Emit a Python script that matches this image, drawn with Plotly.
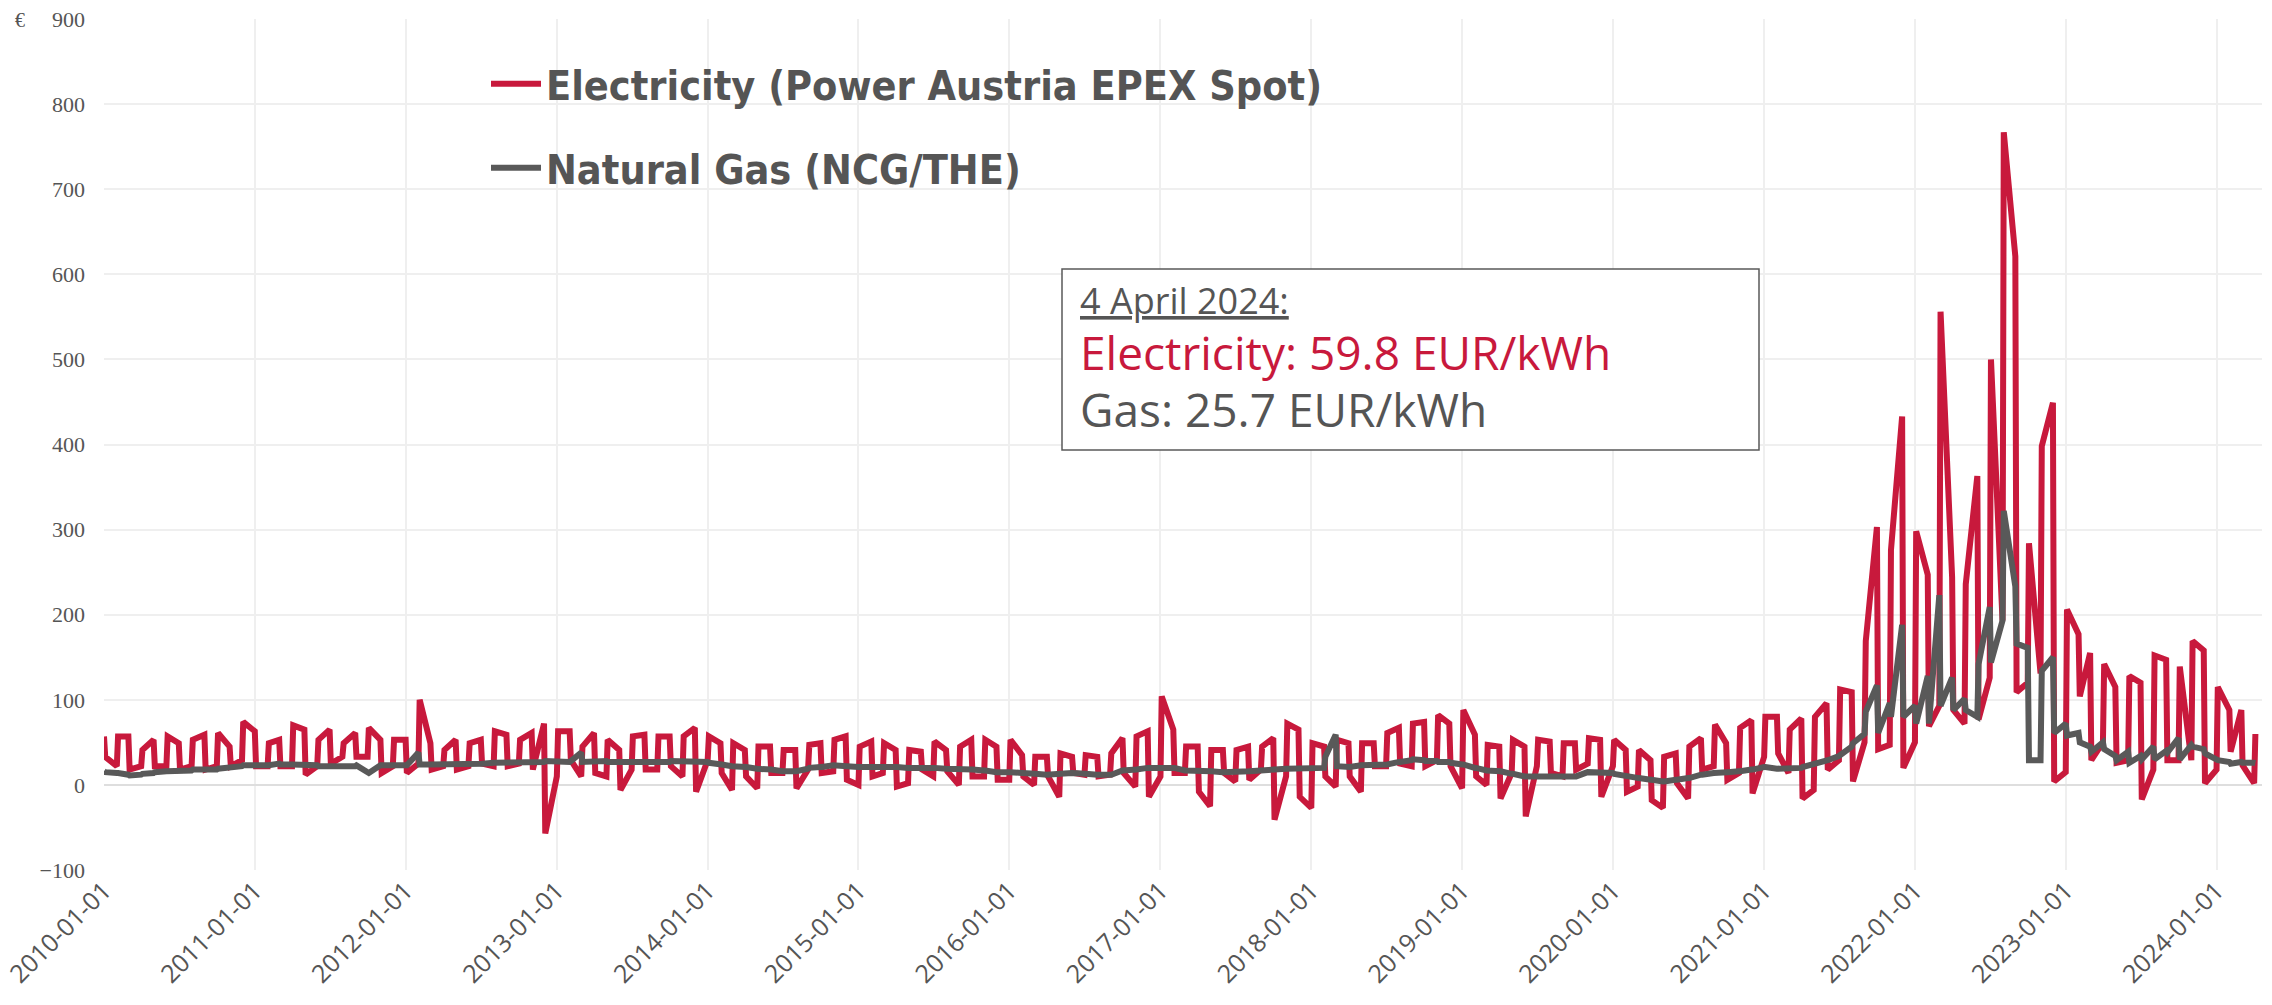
import datetime as dt
import plotly.graph_objects as go

# Spot prices in EUR per unit, two readings per month (1st and 4th of the month)
years = list(range(2010, 2025))

elec_2010 = [57, 33, 22, 57, 57, 18, 22, 41, 53, 22, 22, 57, 49, 18, 22, 53, 59, 18, 22, 61, 45, 22, 29, 74]
elec_2011 = [63, 22, 22, 49, 53, 22, 22, 70, 65, 12, 22, 53, 65, 25, 33, 49, 61, 33, 33, 67, 53, 14, 22, 53]
elec_2012 = [53, 14, 25, 100, 49, 18, 22, 41, 53, 18, 22, 49, 53, 25, 22, 63, 59, 22, 25, 53, 61, 18, 72, -57]
elec_2013 = [10, 63, 63, 29, 10, 45, 61, 14, 10, 53, 41, -6, 18, 57, 59, 18, 18, 57, 57, 22, 10, 57, 67, -8]
elec_2014 = [29, 57, 49, 14, -6, 49, 41, 10, -4, 45, 45, 14, 14, 41, 41, -4, 18, 47, 49, 14, 16, 53, 57, 6]
elec_2015 = [0, 45, 51, 10, 14, 49, 41, -2, 2, 41, 39, 18, 10, 51, 41, 16, 0, 45, 53, 10, 10, 53, 45, 6]
elec_2016 = [6, 53, 35, 10, 0, 33, 33, 10, -14, 37, 33, 14, 12, 35, 33, 10, 12, 37, 55, 14, -2, 57, 63, -14]
elec_2017 = [10, 104, 65, 14, 14, 45, 45, -8, -25, 41, 41, 14, 4, 41, 45, 6, 18, 45, 55, -41, 10, 72, 65, -14]
elec_2018 = [-27, 49, 45, 10, -2, 53, 49, 10, -8, 49, 49, 22, 22, 61, 67, 25, 22, 72, 74, 22, 29, 82, 72, 22]
elec_2019 = [-4, 88, 59, 10, 0, 47, 45, -16, 14, 53, 45, -37, 22, 53, 51, 14, 10, 49, 49, 18, 25, 55, 53, -14]
elec_2020 = [22, 53, 41, -8, -2, 41, 29, -18, -27, 33, 37, 2, -16, 45, 55, 18, 22, 71, 49, 6, 14, 67, 76, -10]
elec_2021 = [33, 80, 80, 37, 14, 65, 78, -16, -6, 80, 96, 18, 29, 112, 109, 4, 50, 169, 303, 42, 47, 276, 433, 20]
elec_2022 = [50, 298, 247, 69, 93, 556, 244, 88, 72, 236, 363, 77, 126, 500, 193, 767, 621, 109, 120, 284, 131, 398, 449, 4]
elec_2023 = [15, 206, 177, 104, 155, 29, 50, 142, 115, 26, 29, 128, 120, -17, 18, 152, 147, 29, 29, 139, 29, 169, 158, 2]
elec_2024 = [18, 115, 88, 39, 88, 23, 2, 59.8]

gas_2010 = [16, 15, 14, 14, 12, 11, 12, 13, 14, 15, 16, 16, 17, 17, 17, 18, 18, 17, 18, 19, 20, 20, 22, 23]
gas_2011 = [23, 22, 22, 23, 25, 24, 24, 24, 23, 23, 23, 22, 22, 22, 21, 22, 22, 23, 14, 14, 23, 23, 23, 22]
gas_2012 = [23, 23, 38, 24, 24, 24, 24, 25, 25, 25, 25, 24, 25, 25, 26, 26, 26, 26, 27, 27, 27, 27, 27, 28]
gas_2013 = [27, 27, 27, 28, 38, 27, 28, 28, 28, 27, 27, 27, 26, 27, 27, 27, 27, 27, 27, 28, 28, 28, 28, 27]
gas_2014 = [27, 26, 25, 24, 22, 22, 21, 21, 19, 19, 18, 18, 16, 16, 15, 16, 19, 20, 21, 21, 23, 23, 22, 22]
gas_2015 = [21, 21, 22, 22, 21, 21, 21, 21, 20, 20, 21, 21, 20, 20, 19, 19, 19, 19, 18, 18, 17, 17, 15, 15]
gas_2016 = [16, 15, 14, 14, 13, 13, 12, 12, 13, 13, 14, 14, 13, 13, 12, 12, 12, 12, 17, 17, 18, 18, 20, 20]
gas_2017 = [21, 21, 20, 20, 17, 17, 16, 16, 16, 16, 15, 15, 15, 15, 16, 16, 17, 17, 18, 18, 19, 19, 20, 20]
gas_2018 = [19, 19, 20, 33, 59, 22, 21, 21, 23, 23, 23, 24, 24, 24, 27, 27, 29, 30, 29, 28, 28, 27, 27, 26]
gas_2019 = [24, 24, 20, 20, 17, 17, 16, 16, 13, 13, 10, 10, 11, 11, 11, 11, 10, 10, 10, 10, 15, 15, 14, 14]
gas_2020 = [14, 13, 10, 10, 8, 8, 6, 6, 4, 4, 6, 6, 8, 8, 12, 12, 14, 14, 15, 15, 16, 16, 18, 18]
gas_2021 = [21, 21, 19, 19, 19, 19, 20, 21, 24, 25, 28, 29, 34, 35, 45, 49, 60, 86, 117, 61, 96, 80, 188, 80]
gas_2022 = [93, 72, 128, 72, 223, 93, 126, 88, 101, 88, 80, 142, 209, 144, 193, 322, 233, 166, 161, 29, 29, 134, 150, 61]
gas_2023 = [72, 58, 61, 50, 45, 39, 50, 42, 34, 29, 39, 26, 34, 30, 45, 30, 40, 38, 55, 30, 47, 45, 42, 37]
gas_2024 = [30, 29, 27, 25, 27, 26, 26, 25.7]

elec_by_year = [elec_2010, elec_2011, elec_2012, elec_2013, elec_2014, elec_2015, elec_2016,
                elec_2017, elec_2018, elec_2019, elec_2020, elec_2021, elec_2022, elec_2023, elec_2024]
gas_by_year = [gas_2010, gas_2011, gas_2012, gas_2013, gas_2014, gas_2015, gas_2016,
               gas_2017, gas_2018, gas_2019, gas_2020, gas_2021, gas_2022, gas_2023, gas_2024]

RED = "#C8193C"
GREY = "#595959"
TEXT = "#555555"

# Date axis: 1st and 4th day of every month covered by the yearly lists
dates, elec, gas = [], [], []
for year, e_vals, g_vals in zip(years, elec_by_year, gas_by_year):
    for i in range(len(e_vals) // 2):
        dates += [dt.date(year, i + 1, 1), dt.date(year, i + 1, 4)]
    elec += e_vals
    gas += g_vals

last_day = dates[-1]
last_elec = elec[-1]
last_gas = gas[-1]

fig = go.Figure()
fig.add_trace(go.Scatter(
    x=dates, y=elec, mode="lines", name="Electricity (Power Austria EPEX Spot)",
    line=dict(color=RED, width=6), legend="legend",
))
fig.add_trace(go.Scatter(
    x=dates, y=gas, mode="lines", name="Natural Gas (NCG/THE)",
    line=dict(color=GREY, width=6), legend="legend2",
))

# plot-area geometry in pixels, used to place the overlay box
W, H = 2272, 1005
ML, MR, MT, MB = 104, 10, 19, 135
PW, PH = W - ML - MR, H - MT - MB


def px(xp):
    return (xp - ML) / PW


def py(yp):
    return (H - MB - yp) / PH


legend_font = dict(family="DejaVu Sans Condensed", size=41, color=TEXT, weight="bold")
fig.update_layout(
    width=W, height=H,
    margin=dict(l=ML, r=MR, t=MT, b=MB),
    paper_bgcolor="white", plot_bgcolor="white",
    showlegend=True,
    legend=dict(x=px(486), y=py(84), xanchor="left", yanchor="middle",
                bgcolor="rgba(0,0,0,0)", font=legend_font, itemwidth=50),
    legend2=dict(x=px(486), y=py(168), xanchor="left", yanchor="middle",
                 bgcolor="rgba(0,0,0,0)", font=legend_font, itemwidth=50),
    xaxis=dict(
        type="date", range=["2010-01-01", "2024-04-20"],
        tick0="2010-01-01", dtick="M12", tickformat="%Y-%m-%d", tickangle=-45,
        showgrid=True, gridcolor="#efefef", gridwidth=2, zeroline=False, showline=False,
        ticks="", ticklabeloverflow="allow", automargin=False,
        tickfont=dict(family="Open Sans", size=25, color=TEXT),
    ),
    yaxis=dict(
        range=[-100, 900], dtick=100, tick0=0,
        showgrid=True, gridcolor="#efefef", gridwidth=2,
        zeroline=True, zerolinecolor="#dedede", zerolinewidth=2, showline=False,
        ticks="", ticklabelstandoff=18, automargin=False,
        tickfont=dict(family="Liberation Serif", size=22, color=TEXT),
    ),
)

# currency unit above the value axis
fig.add_annotation(text="€", xref="paper", yref="paper", x=px(20), y=py(20),
                   xanchor="center", yanchor="middle", showarrow=False,
                   font=dict(family="Liberation Serif", size=20, color=TEXT))

# info box with the latest readings
fig.add_shape(type="rect", xref="paper", yref="paper",
              x0=px(1062), x1=px(1759), y0=py(450), y1=py(269),
              line=dict(color=GREY, width=1.5), fillcolor="white", layer="above")

date_label = f"{last_day.day} {last_day.strftime('%B')} {last_day.year}:"
fig.add_annotation(text=f"<span style='text-decoration:underline'>{date_label}</span>",
                   xref="paper", yref="paper", x=px(1078), y=py(300),
                   xanchor="left", yanchor="middle", showarrow=False,
                   font=dict(family="Open Sans", size=36, color=TEXT))
fig.add_annotation(text=f"Electricity: {last_elec} EUR/kWh",
                   xref="paper", yref="paper", x=px(1078), y=py(352),
                   xanchor="left", yanchor="middle", showarrow=False,
                   font=dict(family="Open Sans", size=46, color=RED))
fig.add_annotation(text=f"Gas: {last_gas} EUR/kWh",
                   xref="paper", yref="paper", x=px(1078), y=py(409),
                   xanchor="left", yanchor="middle", showarrow=False,
                   font=dict(family="Open Sans", size=46, color=TEXT))

fig.write_html("out.html")
